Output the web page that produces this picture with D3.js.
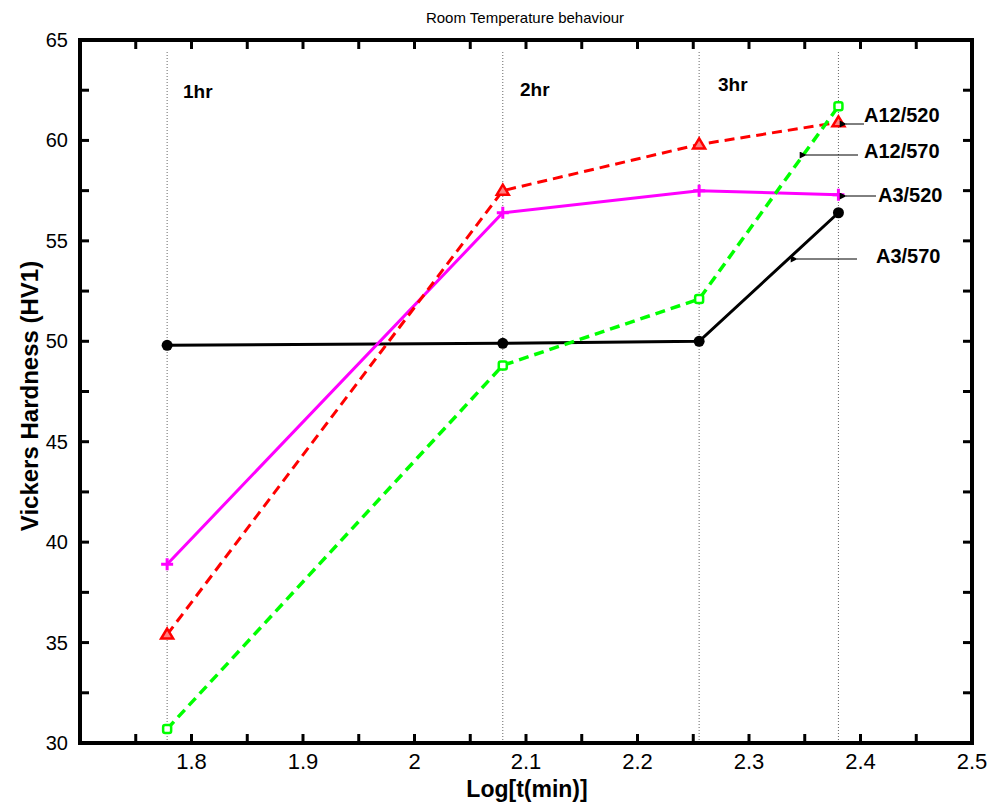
<!DOCTYPE html>
<html>
<head>
<meta charset="utf-8">
<script src="https://cdn.jsdelivr.net/npm/d3@7"></script>
<style>
  body { margin: 0; background: #fff; }
  svg { display: block; }
  text { font-family: Arial, "Liberation Sans", sans-serif; }
  .narrow { font-family: "Liberation Sans Narrow", "Arial Narrow", "Liberation Sans", Arial, sans-serif; }
</style>
</head>
<body>
<svg id="chart" width="992" height="804"></svg>
<script>
// Ageing times (log10 of minutes) and hardness values
const times = [Math.log10(60), Math.log10(120), Math.log10(180), Math.log10(240)];
const timeLabels = ["1hr", "2hr", "3hr"];
const seriesNames = ["A3/570", "A3/520", "A12/520", "A12/570"];
const a3_570 = [49.8, 49.9, 50.0, 56.4];
const a3_520 = [38.9, 56.4, 57.5, 57.3];
const a12_520 = [35.4, 57.5, 59.8, 60.9];
const a12_570 = [30.7, 48.8, 52.1, 61.7];
const xTicks = [1.8, 1.9, 2.0, 2.1, 2.2, 2.3, 2.4, 2.5];
const yTicks = [30, 35, 40, 45, 50, 55, 60, 65];

const svg = d3.select("#chart");
const L = 80, R = 972, T = 40, B = 743;

const x = d3.scaleLinear().domain([1.7, 2.5]).range([L, R]);
const y = d3.scaleLinear().domain([30, 65]).range([B, T]);

// Title
svg.append("text").attr("x", 525).attr("y", 23).attr("text-anchor", "middle")
  .attr("font-size", 15).text("Room Temperature behaviour");

// Time marker guides
svg.append("g").selectAll("line").data(times).join("line")
  .attr("x1", d => x(d)).attr("x2", d => x(d))
  .attr("y1", 52).attr("y2", B)
  .attr("stroke", "#666").attr("stroke-width", 1).attr("stroke-dasharray", "1,2");

// Time labels
const labelPos = [[183, 98], [520, 96], [718, 91]];
svg.append("g").selectAll("text").data(timeLabels).join("text")
  .attr("x", (d, i) => labelPos[i][0]).attr("y", (d, i) => labelPos[i][1])
  .attr("font-size", 19).attr("font-weight", "bold").text(d => d);

// Minor/major ticks
const minorX = d3.range(1.75, 2.5, 0.05);
const minorY = d3.range(32.5, 65, 2.5);
const tickLen = 9;
const tg = svg.append("g").attr("stroke", "#000").attr("stroke-width", 3);
minorX.forEach(v => {
  tg.append("line").attr("x1", x(v)).attr("x2", x(v)).attr("y1", B).attr("y2", B - tickLen);
  tg.append("line").attr("x1", x(v)).attr("x2", x(v)).attr("y1", T).attr("y2", T + tickLen);
});
minorY.forEach(v => {
  tg.append("line").attr("x1", L).attr("x2", L + tickLen).attr("y1", y(v)).attr("y2", y(v));
  tg.append("line").attr("x1", R).attr("x2", R - tickLen).attr("y1", y(v)).attr("y2", y(v));
});

// Tick labels
svg.append("g").selectAll("text").data(xTicks).join("text")
  .attr("class", "narrow")
  .attr("x", d => x(d)).attr("y", 769).attr("text-anchor", "middle")
  .attr("font-size", 22).text(d => d3.format("")(+d.toFixed(1)));
svg.append("g").selectAll("text").data(yTicks).join("text")
  .attr("x", 68).attr("y", d => y(d) + 7).attr("text-anchor", "end")
  .attr("font-size", 20).text(d => d);

// Axis titles
svg.append("text").attr("class", "narrow").attr("x", 527).attr("y", 797).attr("text-anchor", "middle")
  .attr("font-size", 23).attr("font-weight", "bold").text("Log[t(min)]");
svg.append("text").attr("transform", "translate(38,396) rotate(-90)").attr("text-anchor", "middle")
  .attr("font-size", 24).attr("font-weight", "bold").text("Vickers Hardness (HV1)");

// Series
const line = d3.line().x((d, i) => x(times[i])).y(d => y(d));

function drawSeries(vals, color, dash, width) {
  svg.append("path").datum(vals).attr("d", line)
    .attr("fill", "none").attr("stroke", color).attr("stroke-width", width)
    .attr("stroke-dasharray", dash);
}
drawSeries(a3_570, "#000", null, 3);
drawSeries(a3_520, "#ff00ff", null, 3);
drawSeries(a12_520, "#ff0000", "10,6", 3);
drawSeries(a12_570, "#00ff00", "10,6", 3.5);

// Markers
svg.append("g").selectAll("circle").data(a3_570).join("circle")
  .attr("cx", (d, i) => x(times[i])).attr("cy", d => y(d)).attr("r", 5.5).attr("fill", "#000");
svg.append("g").selectAll("path").data(a3_520).join("path")
  .attr("d", (d, i) => { const cx = x(times[i]), cy = y(d);
    return `M${cx - 6},${cy}H${cx + 6}M${cx},${cy - 6}V${cy + 6}`; })
  .attr("stroke", "#ff00ff").attr("stroke-width", 3);
svg.append("g").selectAll("path").data(a12_520).join("path")
  .attr("d", (d, i) => { const cx = x(times[i]), cy = y(d);
    return `M${cx},${cy - 6}L${cx + 6},${cy + 4}L${cx - 6},${cy + 4}Z`; })
  .attr("fill", "#ff8080").attr("stroke", "#ff0000").attr("stroke-width", 2.5);
svg.append("g").selectAll("rect").data(a12_570).join("rect")
  .attr("x", (d, i) => x(times[i]) - 4).attr("y", d => y(d) - 4)
  .attr("width", 8).attr("height", 8).attr("rx", 2)
  .attr("fill", "#fff").attr("stroke", "#00ff00").attr("stroke-width", 2.5);

// Series annotations with arrows
const defs = svg.append("defs");
defs.append("marker").attr("id", "arr").attr("viewBox", "0 0 10 10")
  .attr("refX", 1).attr("refY", 5).attr("markerWidth", 14).attr("markerHeight", 7)
  .attr("markerUnits", "userSpaceOnUse").attr("orient", "auto")
  .append("path").attr("d", "M10,0L0,5L10,10Z").attr("fill", "#000");

const notes = [
  { name: seriesNames[2], tx: 864, ty: 122, ax1: 864, ax2: 846, ay: 124 },
  { name: seriesNames[3], tx: 864, ty: 158, ax1: 858, ax2: 806, ay: 155 },
  { name: seriesNames[1], tx: 878, ty: 202, ax1: 876, ax2: 846, ay: 196 },
  { name: seriesNames[0], tx: 876, ty: 263, ax1: 857, ax2: 797, ay: 259 }
];
const ng = svg.append("g");
notes.forEach(n => {
  ng.append("line").attr("x1", n.ax1).attr("x2", n.ax2).attr("y1", n.ay).attr("y2", n.ay)
    .attr("stroke", "#000").attr("stroke-width", 1).attr("marker-end", "url(#arr)");
  ng.append("text").attr("x", n.tx).attr("y", n.ty).attr("font-size", 20)
    .attr("font-weight", "bold").text(n.name);
});

// Frame
svg.append("rect").attr("x", L).attr("y", T).attr("width", R - L).attr("height", B - T)
  .attr("fill", "none").attr("stroke", "#000").attr("stroke-width", 4);
</script>
</body>
</html>
